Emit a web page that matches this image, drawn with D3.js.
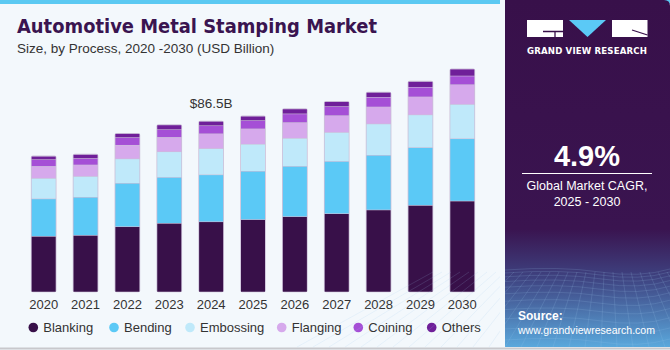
<!DOCTYPE html>
<html>
<head>
<meta charset="utf-8">
<script src="https://cdn.jsdelivr.net/npm/d3@7"></script>
<style>
  body { margin: 0; background: #fff; }
  svg { display: block; font-family: "Liberation Sans", Arial, sans-serif; }
</style>
</head>
<body>
<div id="chart-area"></div>
<script>
// data (USD Billion)
var years = ["2020","2021","2022","2023","2024","2025","2026","2027","2028","2029","2030"];
var processes = ["Blanking","Bending","Embossing","Flanging","Coining","Others"];
var blanking  = [28.2, 28.7, 33.1, 34.8, 35.6, 36.7, 38.2, 39.7, 41.6, 43.9, 46.1];
var bending   = [19.0, 19.3, 22.0, 23.3, 23.8, 24.5, 25.5, 26.5, 27.7, 29.3, 31.6];
var embossing = [10.4, 10.6, 12.4, 13.0, 13.3, 13.7, 14.2, 14.7, 15.9, 16.6, 17.4];
var flanging  = [ 6.1,  5.8,  6.9,  7.3,  7.5,  7.8,  8.0,  8.5,  8.6,  9.1, 10.0];
var coining   = [ 3.4,  3.3,  3.9,  3.9,  4.1,  4.2,  4.4,  4.6,  4.9,  4.9,  4.4];
var others    = [ 1.7,  2.0,  2.0,  2.4,  2.2,  2.2,  2.5,  2.5,  2.5,  2.9,  3.5];
var colors = ["#381049", "#5bc9f6", "#bfe9fa", "#d6a9ec", "#a54fd6", "#6f1f99"];

var W = 670, H = 350;

var svg = d3.select("#chart-area")
    .append("svg")
        .attr("width", W)
        .attr("height", H);

var defs = svg.append("defs");
var grad = defs.append("linearGradient")
    .attr("id", "panelGrad")
    .attr("x1", 0).attr("y1", 0).attr("x2", 0).attr("y2", 1);
grad.append("stop").attr("offset", "0").attr("stop-color", "#38104a");
grad.append("stop").attr("offset", "0.66").attr("stop-color", "#3a1450");
grad.append("stop").attr("offset", "0.8").attr("stop-color", "#3e4280");
grad.append("stop").attr("offset", "1").attr("stop-color", "#5aa8dc");

// background
svg.append("rect")
    .attr("width", W).attr("height", H)
    .attr("fill", "#f3f8fc");
svg.append("rect")
    .attr("width", W).attr("height", 4)
    .attr("fill", "#5bc9f2");
svg.append("line")
    .attr("x1", 0).attr("x2", W).attr("y1", 348.5).attr("y2", 348.5)
    .attr("stroke", "#c8c8cc").attr("stroke-width", 2);

// Title
svg.append("text")
    .attr("x", 17).attr("y", 33)
    .attr("font-family", "'DejaVu Sans', sans-serif")
    .attr("font-weight", "bold")
    .attr("font-size", "20px")
    .attr("fill", "#3a1450")
    .attr("textLength", 360)
    .attr("lengthAdjust", "spacingAndGlyphs")
    .text("Automotive Metal Stamping Market");

svg.append("text")
    .attr("x", 17).attr("y", 53)
    .attr("font-size", "13.5px")
    .attr("fill", "#333")
    .text("Size, by Process, 2020 -2030 (USD Billion)");

// scales
var baseY = 292.3;
var x = d3.scaleBand()
    .domain(years)
    .range([23.3, 482.7])
    .paddingInner(0.4265)
    .paddingOuter(0.2);

var y = d3.scaleLinear()
    .domain([0, 86.5])
    .range([baseY, 121.7]);

var series = [blanking, bending, embossing, flanging, coining, others];
var table = years.map(function(yr, i) {
    var row = { year: yr };
    processes.forEach(function(p, j) { row[p] = series[j][i]; });
    return row;
});
var stack = d3.stack().keys(processes)(table);

var g = svg.append("g");

// outline behind each stack
g.selectAll(".outline")
    .data(table)
    .enter().append("rect")
        .attr("class", "outline")
        .attr("x", function(d) { return x(d.year) - 0.8; })
        .attr("width", x.bandwidth() + 1.6)
        .attr("y", function(d) { return y(d3.sum(processes, function(p) { return d[p]; })) - 1; })
        .attr("height", function(d) { return baseY - y(d3.sum(processes, function(p) { return d[p]; })) + 1; })
        .attr("rx", 2)
        .attr("fill", "#cbbfd8");

var layers = g.selectAll(".layer")
    .data(stack)
    .enter().append("g")
        .attr("class", "layer")
        .attr("fill", function(d, i) { return colors[i]; });

layers.selectAll("rect")
    .data(function(d) { return d; })
    .enter().append("rect")
        .attr("x", function(d) { return x(d.data.year); })
        .attr("width", x.bandwidth())
        .attr("y", function(d) { return y(d[1]); })
        .attr("height", function(d) { return y(d[0]) - y(d[1]) - 0.6; });

// X axis labels
var xAxisCall = d3.axisBottom(x).tickSize(0).tickPadding(6);
var xAxisGroup = svg.append("g")
    .attr("transform", "translate(0," + (baseY + 1) + ")")
    .call(xAxisCall);
xAxisGroup.select(".domain").remove();
xAxisGroup.selectAll("text")
    .attr("font-size", "13px")
    .attr("fill", "#333")
    .attr("font-family", "'Liberation Sans', Arial, sans-serif");

// 2024 annotation
svg.append("text")
    .attr("x", x("2024") + x.bandwidth() / 2)
    .attr("y", 108)
    .attr("text-anchor", "middle")
    .attr("font-size", "13.5px")
    .attr("fill", "#333")
    .text("$86.5B");

// Legend
var legendX = [33.3, 114, 190, 281.7, 358.3, 431.7];
var legend = svg.selectAll(".legend")
    .data(processes)
    .enter().append("g")
        .attr("class", "legend")
        .attr("transform", function(d, i) { return "translate(" + legendX[i] + ",327.5)"; });
legend.append("circle")
    .attr("r", 4.8)
    .attr("fill", function(d, i) { return colors[i]; });
legend.append("text")
    .attr("x", 10)
    .attr("y", 4.5)
    .attr("font-size", "13px")
    .attr("fill", "#333")
    .text(function(d) { return d; });

// Right panel
var panel = svg.append("g");
panel.append("path")
    .attr("d", "M505,0 H664 Q670,0 670,6 V347 H505 Z")
    .attr("fill", "url(#panelGrad)");

// mesh lines at the bottom of the panel
var mesh = panel.append("g")
    .attr("stroke", "#9fc6ec")
    .attr("stroke-opacity", 0.28)
    .attr("stroke-width", 0.6)
    .attr("fill", "none");
d3.range(0, 14).forEach(function(i) {
    var yy = 270 + i * i * 0.45 + i * 2.5;
    mesh.append("path")
        .attr("d", "M505," + yy + " Q560," + (yy - 4) + " 600," + (yy + 2) + " T670," + (yy - 1));
});
d3.range(-8, 20).forEach(function(i) {
    var xTop = 505 + i * 9;
    var xBot = 505 + (i - 5) * 16;
    mesh.append("line")
        .attr("x1", xTop).attr("y1", 272)
        .attr("x2", xBot).attr("y2", 347);
});
panel.append("rect")
    .attr("x", 500).attr("y", 0).attr("width", 5).attr("height", 347)
    .attr("fill", "#f3f8fc");

// logo
var logo = panel.append("g");
logo.append("rect").attr("x", 527).attr("y", 20).attr("width", 36).attr("height", 17).attr("fill", "#fff");
logo.append("path").attr("d", "M543,31.5 H563 M555,31.5 V37").attr("stroke", "#38104a").attr("stroke-width", 1.3).attr("fill", "none");
logo.append("path").attr("d", "M569,20 H606 L587.5,37 Z").attr("fill", "#5bc9f6");
logo.append("rect").attr("x", 612).attr("y", 20).attr("width", 35.5).attr("height", 17).attr("fill", "#fff");
logo.append("path").attr("d", "M632,30 L647.5,35").attr("stroke", "#38104a").attr("stroke-width", 1.3);
logo.append("text")
    .attr("x", 587).attr("y", 54)
    .attr("text-anchor", "middle")
    .attr("font-family", "'DejaVu Sans', sans-serif")
    .attr("font-weight", "bold")
    .attr("font-size", "8.6px")
    .attr("fill", "#fff")
    .attr("textLength", 120)
    .text("GRAND VIEW RESEARCH");

// CAGR
panel.append("text")
    .attr("x", 587).attr("y", 166)
    .attr("text-anchor", "middle")
    .attr("font-family", "'Liberation Sans', Arial, sans-serif")
    .attr("font-weight", "bold")
    .attr("font-size", "29px")
    .attr("fill", "#fff")
    .text("4.9%");
panel.append("line")
    .attr("x1", 522).attr("x2", 652).attr("y1", 173.5).attr("y2", 173.5)
    .attr("stroke", "#fff").attr("stroke-width", 1);
panel.append("text")
    .attr("x", 587).attr("y", 189.5)
    .attr("text-anchor", "middle")
    .attr("font-size", "12.5px")
    .attr("fill", "#fff")
    .text("Global Market CAGR,");
panel.append("text")
    .attr("x", 587).attr("y", 205.5)
    .attr("text-anchor", "middle")
    .attr("font-size", "12.5px")
    .attr("fill", "#fff")
    .text("2025 - 2030");

// Source
panel.append("text")
    .attr("x", 518).attr("y", 320)
    .attr("font-weight", "bold")
    .attr("font-size", "12px")
    .attr("fill", "#fff")
    .text("Source:");
panel.append("text")
    .attr("x", 518).attr("y", 334)
    .attr("font-size", "11px")
    .attr("fill", "#fff")
    .attr("textLength", 137)
    .attr("lengthAdjust", "spacingAndGlyphs")
    .text("www.grandviewresearch.com");
</script>
</body>
</html>
